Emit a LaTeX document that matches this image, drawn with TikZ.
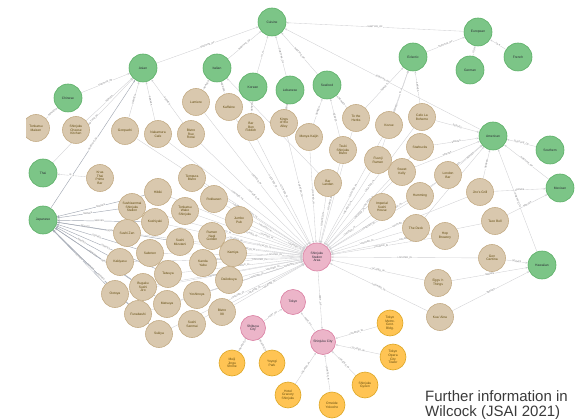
\documentclass[tikz,border=0pt]{standalone}
\usepackage{fontspec}
\setmainfont{Liberation Sans}
\usetikzlibrary{arrows.meta,backgrounds}

\definecolor{grnF}{HTML}{7CC587}
\definecolor{grnD}{HTML}{5BAF66}
\definecolor{bgeF}{HTML}{D9C8AE}
\definecolor{bgeD}{HTML}{C4AC86}
\definecolor{pnkF}{HTML}{ECB5C9}
\definecolor{pnkD}{HTML}{DA7FA2}
\definecolor{ylwF}{HTML}{FFC454}
\definecolor{ylwD}{HTML}{DDA624}
\definecolor{txtDark}{HTML}{2A2C34}
\definecolor{txtBrown}{HTML}{604A0E}
\definecolor{lineC}{HTML}{CFCFD2}
\definecolor{hubC}{HTML}{A3A9B4}
\definecolor{labC}{HTML}{6E6E72}
\definecolor{noteC}{HTML}{3A3A3A}

\newcommand\ndfont{\fontsize{3.3}{3.7}\selectfont}
\newcommand\lbfont{\fontsize{2.3}{2.5}\selectfont}
% relationship with its type written halfway along
\newcommand\conn[4][]{\draw[lnk,#1] (#2) -- node[elab]{#4} (#3);}
% relationship with its type written at a chosen position
\newcommand\connp[4]{\draw[lnk] (#2) -- node[elab,pos=#1]{#4} (#3);}

\tikzset{
  basenode/.style={circle, line width=0.6pt, inner sep=0pt, align=center, font=\ndfont},
  gnode/.style={basenode, draw=grnD, fill=grnF, minimum size=28pt, text=txtDark},
  bnode/.style={basenode, draw=bgeD, fill=bgeF, minimum size=27pt, text=txtBrown},
  pnode/.style={basenode, draw=pnkD, fill=pnkF, minimum size=25pt, text=txtDark},
  ynode/.style={basenode, draw=ylwD, fill=ylwF, minimum size=26pt, text=txtBrown},
  lnk/.style={draw=lineC, line width=0.35pt, -{Stealth[length=2.4pt,width=1.9pt]}},
  hubline/.style={draw=hubC, line width=0.45pt},
  elab/.style={midway, sloped, fill=white, inner sep=0.3pt, font=\lbfont, text=labC},
  note/.style={anchor=base west, inner sep=0pt, font=\fontsize{15}{16}\selectfont, text=noteC}
}

\begin{document}
\begin{tikzpicture}[x=1pt,y=-1pt]
\useasboundingbox (0,0) rectangle (585,419);

% cuisine categories
\foreach \n/\x/\y/\t in {
  g1/272/22/Cuisine, g2/143/68/Asian, g3/217/68/Italian, g4/68/98/Chinese,
  g5/253/87/Korean, g6/290/90/Lebanese, g7/327/85/Seafood, g8/413/57/Eclectic,
  g9/478/32/European, g10/470/70/German, g11/518/57/French, g12/43/173/Thai,
  g13/43/220/Japanese, g14/493/136/American, g15/550/150/Southern,
  g16/560/188/Mexican, g17/542/265/Hawaiian}
  {\node[gnode] (\n) at (\x,\y) {\t};}

% restaurants
\foreach \n/\x/\y/\t in {
  b1/36/128/{Tonkatsu\\Maisen}, b2/76/130/{Shinjuku\\Cheese\\Kitchen},
  b3/125/131/{Gonpachi}, b4/158/134/{Nakamura\\Cafe}, b5/191/134/{Bistro\\Rue\\Rossi},
  b6/196/102/{Lumiere}, b7/229/107/{Kaffeine}, b8/251/127/{Bar\\Ben\\Fiddich},
  b9/284/123/{Kings\\of the\\Alley}, b10/309/137/{Menya Kaijin},
  b11/343/150/{Tsuki\\Shinjuku\\Bistro}, b12/356/118/{To the\\Herbs},
  b13/378/160/{Fuunji\\Ramen}, b14/389/125/{Kozue}, b15/422/117/{Cafe La\\Boheme},
  b16/420/147/{Starbucks}, b17/402/172/{Sweet\\Kelly}, b18/448/175/{London\\Bar},
  b19/420/196/{Humming}, b20/480/192/{Jiro's Grill}, b21/382/207/{Imperial\\Sushi\\House},
  b22/495/221/{Taco Bell}, b23/416/228/{The Deck}, b24/445/236/{Hop\\Brewery},
  b25/492/258/{Gon\\Cantina}, b26/438/283/{Eggs 'n\\Things}, b27/440/317/{Kua 'Aina},
  b28/100/178/{Krua\\Thai\\Prime\\Bar}, b29/158/192/{Hibiki}, b30/192/178/{Tempura\\Bistro},
  b31/132/207/{Sushizanmai\\Shinjuku\\Station}, b32/185/211/{Tonkatsu\\Wako\\Shinjuku},
  b33/214/199/{Rokkasen}, b34/155/222/{Kushiyaki}, b35/127/233/{Sushi Zen},
  b36/180/242/{Sushi\\Mizutani}, b37/239/220/{Jumbo\\Pub}, b38/212/236/{Ramen\\Nagi\\Golden},
  b39/150/253/{Saboten}, b40/120/262/{Kakiyasu}, b41/168/274/{Tatsuya},
  b42/203/263/{Kanda\\Yabu}, b43/233/253/{Kamiya}, b44/229/280/{Daikokuya},
  b45/115/294/{Ootoya}, b46/143/287/{Bugaku\\Sushi\\Jiro}, b47/167/304/{Matsuya},
  b48/138/314/{Funabashi}, b49/197/295/{Yoshinoya}, b50/192/324/{Sushi\\Sanmai},
  b51/159/334/{Sukiya}, b52/222/312/{Bistro\\98}, b53/328/183/{Bar\\Landen}}
  {\node[bnode] (\n) at (\x,\y) {\t};}

% places
\node[pnode, minimum size=28pt] (p0) at (317,257) {Shinjuku\\Station\\Area};
\node[pnode] (p1) at (293,302) {Tokyo};
\node[pnode] (p2) at (253,328) {Shibuya\\City};
\node[pnode] (p3) at (323,342) {Shinjuku City};

% sights
\foreach \n/\x/\y/\t in {
  y1/232/363/{Meiji\\Jingu\\Shrine}, y2/272/363/{Yoyogi\\Park},
  y3/288/395/{Hotel\\Gracery\\Shinjuku}, y4/332/405/{Omoide\\Yokocho},
  y5/365/385/{Shinjuku\\Gyoen}, y6/390/323/{Tokyo\\Metro.\\Govt.\\Bldg.},
  y7/393/357/{Tokyo\\Opera\\City\\Tower}}
  {\node[ynode] (\n) at (\x,\y) {\t};}

\node[note] (note1) at (425,401) {Further information in};
\node[note] (note2) at (425,416) {Wilcock (JSAI 2021)};

\begin{pgfonlayer}{background}
  % category hierarchy
  \conn{g2}{g1}{SUBTYPE\_OF}
  \conn{g3}{g1}{SUBTYPE\_OF}
  \conn{g5}{g1}{IS\_A}
  \conn{g6}{g1}{SUBTYPE\_OF}
  \conn{g7}{g1}{SUBTYPE\_OF}
  \conn{g9}{g1}{SUBTYPE\_OF}
  \conn{g14}{g1}{SUBTYPE\_OF}
  \conn{g4}{g2}{SUBTYPE\_OF}
  \conn{g12}{g2}{SUBTYPE\_OF}
  \conn[hubline]{g13}{g2}{SUBTYPE\_OF}
  \conn{g8}{g9}{SUBTYPE\_OF}
  \conn{g10}{g9}{IS\_A}
  \conn{g11}{g9}{IS\_A}
  \conn{g15}{g14}{SUBTYPE\_OF}
  \conn{g16}{g14}{SUBTYPE\_OF}
  \conn{g17}{g14}{SUBTYPE\_OF}

  % restaurants serving each cuisine
  \conn{b1}{g4}{SERVES}
  \conn{b2}{g2}{SERVES}
  \conn{b3}{g2}{SERVES}
  \conn{b4}{g2}{SERVES}
  \conn{b5}{g2}{SERVES}
  \conn{b6}{g3}{SERVES}
  \conn{b7}{g3}{SERVES}
  \conn{b53}{g3}{SERVES}
  \conn{b8}{g5}{SERVES}
  \conn{b9}{g6}{SERVES}
  \conn{b10}{g7}{SERVES}
  \conn{b11}{g7}{SERVES}
  \conn{b12}{g7}{SERVES}
  \conn{b12}{g8}{SERVES}
  \conn{b13}{g8}{SERVES}
  \conn{b14}{g8}{IS\_A}
  \conn{b15}{g8}{SERVES}
  \conn{b15}{g14}{SERVES}
  \conn{b16}{g14}{SERVES}
  \conn{b17}{g14}{SERVES}
  \conn{b18}{g14}{SERVES}
  \conn{b19}{g14}{SERVES}
  \conn{b20}{g14}{SERVES}
  \conn{b23}{g14}{SERVES}
  \conn{b20}{g16}{SERVES}
  \conn{b22}{g16}{SERVES}
  \conn{b25}{g17}{SERVES}
  \conn{b26}{g17}{SERVES}
  \conn{b27}{g17}{SERVES}
  \conn{b28}{g12}{IS\_A}
  \foreach \b in {29,31,34,35,36,39,40,41,45,46,47,48,51}
    {\conn[hubline]{b\b}{g13}{SERVES}}

  % restaurants located in the area
  \foreach \b in {4,5,...,17,19,20,...,27,31,32,...,36,38,39,...,46,48,49,...,53}
    {\conn{b\b}{p0}{LOCATED\_IN}}
  \connp{0.68}{b3}{p0}{LOCATED\_IN}
  \connp{0.38}{b18}{p0}{LOCATED\_IN}
  \connp{0.72}{b29}{p0}{LOCATED\_IN}
  \connp{0.35}{b30}{p0}{LOCATED\_IN}
  \connp{0.82}{b37}{p0}{LOCATED\_IN}
  \connp{0.9}{b47}{p0}{LOCATED\_IN}

  % places
  \conn{p0}{p3}{PART\_OF}
  \conn{p2}{p1}{PART\_OF}
  \conn{p3}{p1}{PART\_OF}
  \conn{y1}{p2}{LOCATED\_IN}
  \conn{y2}{p2}{LOCATED\_IN}
  \conn{y3}{p3}{LOCATED\_IN}
  \conn{y4}{p3}{LOCATED\_IN}
  \conn{y5}{p3}{LOCATED\_IN}
  \conn{y6}{p3}{LOCATED\_IN}
  \conn{y7}{p3}{LOCATED\_IN}
\end{pgfonlayer}

% blank strip along the left edge
\fill[white] (0,0) rectangle (26,419);
\end{tikzpicture}
\end{document}
